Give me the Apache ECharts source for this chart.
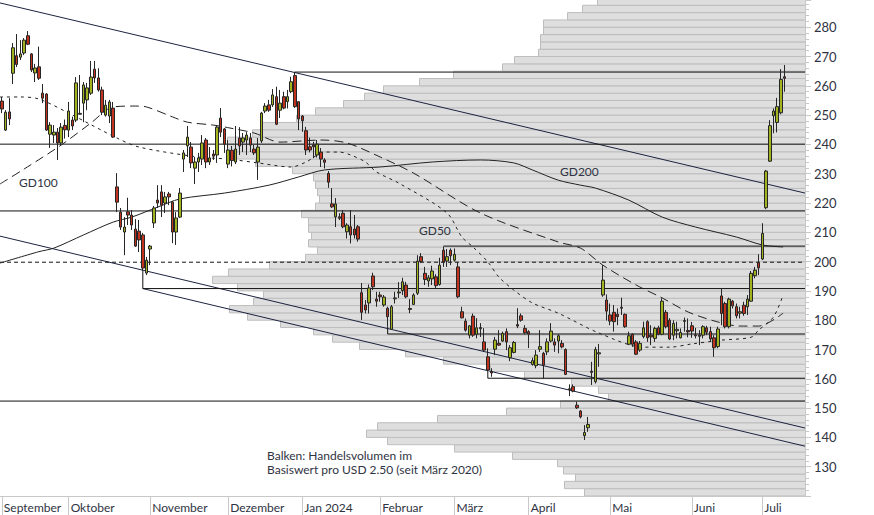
<!DOCTYPE html>
<html><head><meta charset="utf-8">
<script src="https://cdn.jsdelivr.net/npm/echarts/dist/echarts.min.js"></script>
<style>html,body{margin:0;padding:0;background:#fff}#c{width:874px;height:515px}</style>
</head><body><div id="c"></div>
<script>
// ---- axis / categories ----
const slotCount = 217; // trading-day slots on the x axis
const monthStarts = [0, 18, 40, 61, 81, 102, 122, 142, 164, 186, 205];
const monthNames = ['September','Oktober','November','Dezember','Jan 2024','Februar','März','April','Mai','Juni','Juli'];
const yMin = 120, yMax = 289.3, yStep = 10;

// ---- candles: [open, close, low, high] ----
const ohlc = [
[254.8,252.1,250.7,256.2],[244.9,251.0,244.6,251.7],[251.1,248.7,246.6,255.8],[264.3,273.0,260.6,274.6],
[270.3,267.3,266.4,277.7],[269.8,270.9,268.8,275.6],[271.2,275.6,270.5,276.3],[277.1,274.2,273.9,278.7],
[270.9,265.4,264.7,271.2],[264.4,266.1,261.3,267.5],[266.5,262.6,262.0,273.4],[257.5,255.8,254.1,260.6],
[257.2,244.9,244.6,257.5],[243.5,246.6,238.8,247.6],[243.2,244.2,240.5,246.6],[244.2,240.5,234.7,245.6],
[240.5,245.9,239.8,247.3],[246.5,245.0,242.0,248.5],[244.9,251.4,242.5,254.5],[248.3,246.3,244.9,249.5],
[248.3,261.0,247.6,263.0],[250.3,250.6,250.2,263.7],[254.1,260.3,247.6,261.3],[255.2,259.3,251.7,261.0],
[257.5,263.0,256.9,268.5],[265.7,262.7,261.0,268.5],[262.7,258.6,258.0,266.0],[258.6,251.0,250.0,259.7],
[250.0,253.4,249.5,255.2],[249.7,254.5,247.3,255.2],[252.4,242.5,242.2,254.5],[225.5,220.3,216.9,230.2],
[216.9,211.8,210.8,218.3],[210.1,211.8,202.2,215.2],[217.0,215.9,212.5,221.8],[215.9,212.5,210.8,217.6],
[211.1,205.3,205.0,214.5],[210.4,207.4,203.3,214.2],[209.1,197.8,197.1,209.8],[196.1,200.5,195.4,201.6],
[204.3,205.3,198.8,205.7],[213.2,218.3,211.5,219.0],[221.0,220.0,218.3,226.1],[223.8,219.3,215.2,226.1],
[220.0,222.1,216.6,223.8],[223.1,222.1,219.3,223.8],[220.3,210.1,206.3,220.7],[210.1,214.9,205.7,216.9],
[215.2,223.4,214.9,225.1],[235.0,237.1,230.6,238.1],[239.5,242.5,235.7,246.3],[239.1,233.7,231.9,240.8],
[231.9,234.0,226.5,235.7],[234.0,235.4,230.6,237.1],[235.0,240.5,233.0,243.2],[241.5,234.0,231.9,242.2],
[234.0,235.4,233.0,239.1],[236.7,236.0,234.7,238.1],[236.4,245.9,233.7,246.6],[249.0,244.2,242.5,252.4],
[245.3,240.1,237.1,245.6],[233.3,238.1,231.9,241.5],[238.0,234.5,232.5,239.5],[234.0,238.4,233.3,246.3],
[242.2,239.5,236.4,245.9],[240.8,242.2,237.4,243.9],[241.5,243.2,236.4,244.2],[242.2,239.8,237.4,243.9],
[238.4,237.1,236.4,239.8],[234.0,239.1,227.9,242.2],[241.2,250.7,240.5,251.1],[251.4,253.1,250.7,254.1],
[253.5,251.7,251.1,255.2],[253.5,256.9,252.8,258.9],[256.3,246.9,246.6,259.7],[251.7,254.1,249.0,258.6],
[256.3,252.4,252.0,258.0],[254.6,256.3,252.3,258.6],[258.0,261.4,257.5,263.1],[263.5,252.9,252.5,264.8],
[254.6,248.7,244.9,254.8],[249.7,248.1,244.3,250.0],[244.7,238.1,236.4,246.0],[239.2,238.1,237.3,242.3],
[239.8,239.2,235.3,240.9],[236.4,240.1,235.5,241.5],[237.4,235.0,232.3,238.8],[234.7,233.9,231.8,235.3],
[230.1,227.1,225.2,230.9],[219.7,218.7,218.3,225.1],[215.3,219.7,211.8,221.7],[215.3,214.8,214.2,216.5],
[216.5,211.9,211.4,217.6],[210.2,212.5,207.9,213.1],[211.9,209.1,206.2,217.6],[211.1,209.1,207.9,215.9],
[211.9,207.7,206.8,212.5],[189.4,182.7,180.1,192.7],[185.2,183.5,182.3,186.9],[185.9,191.0,182.3,192.2],
[195.1,191.4,190.3,196.2],[187.2,186.5,184.6,189.7],[188.6,188.0,186.3,189.7],[185.2,187.9,184.6,188.6],
[184.1,181.2,177.8,184.6],[176.9,184.6,176.9,185.2],[187.3,187.6,185.7,189.7],[189.3,189.6,187.6,193.0],
[190.1,193.1,188.6,194.5],[192.0,188.0,187.5,193.1],[184.0,183.7,182.4,187.2],[185.4,188.6,185.2,189.2],
[189.2,200.2,188.6,202.2],[201.7,200.0,199.5,202.9],[196.0,193.9,192.0,198.2],[193.4,194.5,191.4,195.4],
[194.1,196.8,192.0,198.6],[194.8,191.8,190.9,195.7],[192.2,198.8,191.8,201.3],[203.9,199.9,198.2,205.1],
[200.2,201.7,198.2,204.3],[203.9,202.0,198.8,204.5],[200.5,202.5,200.0,204.5],[198.2,188.0,187.5,199.9],
[182.9,180.8,180.6,184.6],[179.7,176.6,176.1,180.6],[174.9,178.1,173.8,178.3],[181.4,174.9,174.3,182.3],
[175.2,177.4,173.8,180.7],[177.5,177.1,174.3,179.0],[172.6,169.8,169.2,177.3],[167.5,163.0,162.4,170.4],
[162.5,162.0,160.7,163.6],[170.1,173.2,168.1,174.3],[172.1,171.5,171.2,176.6],[172.9,175.5,172.6,176.1],
[176.1,172.6,169.8,177.2],[167.2,170.6,166.0,171.5],[169.0,172.4,168.7,172.9],[178.5,178.0,177.3,184.1],
[181.5,180.0,179.5,182.3],[177.2,175.7,175.2,178.3],[176.1,175.3,170.5,176.6],[164.9,166.2,164.5,167.2],
[164.5,168.1,163.6,169.8],[170.1,171.0,169.2,176.6],[168.7,164.7,160.1,169.2],[169.2,172.6,168.1,173.8],
[172.9,176.3,172.4,179.0],[172.6,171.5,169.2,173.8],[172.9,174.7,168.7,175.2],[172.1,170.9,170.4,173.2],
[170.0,161.5,161.3,170.4],[156.6,156.3,154.1,158.1],[157.3,155.8,155.4,158.1],[151.0,150.1,149.7,152.2],
[149.0,147.0,146.5,149.3],[140.6,141.7,139.1,144.2],[143.3,144.4,141.9,147.0],[162.6,162.2,157.9,165.8],
[159.0,170.0,158.4,170.9],[168.5,168.9,164.1,171.9],[188.6,193.7,188.0,198.8],[186.9,183.1,179.9,188.8],
[181.8,179.7,178.3,185.7],[182.7,179.5,176.1,185.2],[182.0,181.2,178.3,184.0],[184.4,184.1,181.8,187.7],
[182.0,177.8,177.4,182.3],[171.8,174.7,171.5,176.1],[175.2,171.8,170.9,175.5],[172.6,168.4,168.1,173.2],
[169.8,172.1,169.2,172.9],[174.4,177.4,173.8,179.5],[179.5,174.0,172.6,180.0],[174.9,174.3,171.5,178.3],
[173.8,177.2,172.6,177.8],[177.4,175.2,174.9,178.1],[175.2,186.5,174.9,187.5],[182.7,177.8,177.2,183.5],
[180.0,173.6,173.2,180.7],[174.9,178.9,173.2,180.0],[176.4,176.9,173.8,179.5],[174.0,175.8,173.8,177.2],
[179.6,179.9,176.1,180.9],[176.5,176.0,174.2,180.6],[178.1,176.3,174.0,179.4],[175.0,174.7,173.8,177.4],
[174.9,174.5,171.5,176.6],[174.9,177.8,173.8,178.3],[177.4,175.9,174.9,178.1],[176.1,173.6,172.6,177.8],
[174.0,170.6,167.5,174.9],[171.0,177.0,170.4,177.8],[188.3,182.3,178.3,190.9],[185.7,177.8,177.2,186.3],
[177.8,187.2,177.2,187.7],[186.5,184.9,184.0,186.9],[184.6,181.5,180.6,185.7],[182.4,182.9,180.6,184.6],
[185.1,182.3,181.5,186.3],[184.6,187.2,181.8,188.6],[186.5,196.0,186.3,196.8],[195.2,197.1,194.3,198.2],
[199.7,197.9,195.4,202.5],[200.9,209.6,200.5,213.1],[218.4,230.9,217.9,231.3],[234.3,246.4,234.0,248.3],
[249.8,251.4,243.8,252.3],[247.5,252.9,244.1,255.9],[250.8,262.2,250.3,265.7],[263.1,262.6,258.0,267.1]
];

// ---- volume profile (USD 2.50 bins) ----
const volBinSize = 2.5;
const volBinLow = [120,122.5,125,127.5,130,132.5,135,137.5,140,142.5,145,147.5,150,152.5,155,157.5,160,162.5,165,167.5,
  170,172.5,175,177.5,180,182.5,185,187.5,190,192.5,195,197.5,200,202.5,205,207.5,210,212.5,215,217.5,
  220,222.5,225,227.5,230,232.5,235,237.5,240,242.5,245,247.5,250,252.5,255,257.5,260,262.5,265,267.5,
  270,272.5,275,277.5,280,282.5,285,287.5];
const volAmount = [221,241,230,242,248,293,351,418,439,428,368,299,245,197,207,234,281,315,362,400,
  446,473,492,525,558,576,552,542,568,593,577,536,500,488,497,494,497,497,504,490,
  486,488,490,492,513,550,578,578,578,553,545,509,490,462,441,422,386,352,303,291,
  267,265,265,262,262,238,223,208];
const volAxisMax = 805;

// ---- moving averages: [slot, value] ----
const gd50 = [[-0.5,256.2],[5,256.2],[10,255.5],[18,250.7],[31,242.2],[37,239.1],[53,235.7],[61,235.0],[69,233.7],[78,232.3],
  [82,234.0],[87,237.4],[91,237.4],[94,236.4],[98,234.0],[101,230.6],[107,226.8],[120,216.6],[124,208.4],[127,205.0],
  [131,199.9],[134,194.7],[138,190.3],[143,185.9],[150,182.4],[161,175.6],[173,170.8],[180,170.8],[186,171.9],[194,173.2],
  [202,174.2],[204,176.6],[208,181.1],[210.6,188.6]];
const gd100 = [[-0.5,226.5],[6,231.6],[16,239.8],[24,247.3],[30,252.8],[36,253.1],[39,252.8],[46,249.4],[50,247.6],[57,246.6],
  [61.5,245.6],[68,243.9],[75,240.8],[86,241.5],[93,240.5],[102,235.7],[111,230.2],[129,216.6],[150,206.7],[156,204.6],
  [162,198.8],[171,192.0],[178,187.6],[185,182.8],[193,179.4],[199,178.0],[204,178.0],[210.6,182.4]];
const gd200 = [[-0.5,199.5],[10,203.4],[14,204.6],[22,209.1],[30,213.5],[35,215.2],[42,218.6],[48,221.4],[60,223.4],[72,226.1],
  [80,228.9],[87,231.3],[102,232.3],[116,234.0],[129,234.7],[138,233.7],[143,231.3],[150,227.8],[156,226.1],[160,225.1],
  [169,221.0],[178,215.2],[187,211.8],[198,208.4],[205,205.7],[210.6,205.0]];

// ---- trend lines and levels: [slot, value] ----
const trendUpper = [[-0.5,288.3],[216.5,223.4]];
const trendLowA = [[-0.5,208.7],[216.5,143.2]];
const trendLowB = [[38,190.8],[216.5,137.0]];
const levelLines = [
  [[79,264.7],[216.5,264.7]],
  [[-0.5,240.1],[216.5,240.1]],
  [[-0.5,217.3],[216.5,217.3]],
  [[119,205.3],[216.5,205.3]],
  [[38,197.1],[38,190.8],[216.5,190.8]],
  [[104,177.8],[104,175.3],[216.5,175.3]],
  [[131,162.4],[131,160.2],[216.5,160.2]],
  [[-0.5,152.4],[216.5,152.4]]
];
const dashedLevel = [[-0.5,199.8],[216.5,199.8]];

// ---- text notes ----
const noteLines = ['Balken: Handelsvolumen im', 'Basiswert pro USD 2.50 (seit März 2020)'];

// ---- build ----
const cats = [];
for (let i = 0; i < slotCount; i++) {
  const k = monthStarts.indexOf(i);
  cats.push(k >= 0 ? monthNames[k] : 'd' + i);
}
const isMonth = (i) => monthStarts.indexOf(i) >= 0;
const FONT = 'Lato, "Open Sans", sans-serif';
const TXT = '#2f3342';
const lineCol = '#1c2340';

const series = [];
series.push({
  type: 'custom', name: 'volume', xAxisIndex: 1, yAxisIndex: 0, silent: true, z: 1, clip: true,
  data: volBinLow.map((lo, i) => [volAmount[i], lo]),
  renderItem: function (params, api) {
    const v = api.value(0), lo = api.value(1);
    const p1 = api.coord([v, lo + volBinSize]);
    const p0 = api.coord([0, lo]);
    return { type: 'rect', shape: { x: Math.round(p1[0]) + 0.5, y: p1[1], width: p0[0] - p1[0], height: p0[1] - p1[1] },
      style: { fill: '#dedede', stroke: '#bdbdbd', lineWidth: 1 } };
  }
});
function lineSeries(data, style, z) {
  return { type: 'line', xAxisIndex: 2, yAxisIndex: 0, data: data, symbol: 'none', silent: true, z: z || 3,
    lineStyle: Object.assign({ width: 1, color: lineCol }, style), animation: false };
}
series.push(lineSeries(trendUpper, {}));
series.push(lineSeries(trendLowA, {}));
series.push(lineSeries(trendLowB, {}));
levelLines.forEach(l => series.push(lineSeries(l, { color: '#111' })));
series.push(lineSeries(dashedLevel, { color: '#111', type: [4, 3] }));
series.push(Object.assign(lineSeries(gd50, { color: '#222', type: [3, 4] }, 4), { smooth: 0.3 }));
series.push(Object.assign(lineSeries(gd100, { color: '#222', type: [9, 5] }, 4), { smooth: 0.3 }));
series.push(Object.assign(lineSeries(gd200, { color: '#222' }, 4), { smooth: 0.3 }));
series.push({
  type: 'candlestick', xAxisIndex: 0, yAxisIndex: 0, data: ohlc, barWidth: 3, z: 6, silent: true,
  itemStyle: { color: '#a3b31f', color0: '#c0341f', borderColor: '#262626', borderColor0: '#262626', borderWidth: 1 }
});

const chart = echarts.init(document.getElementById('c'), null, { renderer: 'svg' });
chart.setOption({
  animation: false,
  backgroundColor: '#fff',
  grid: { left: 0, right: 69, top: 0, bottom: 19, containLabel: false },
  xAxis: [
    { type: 'category', data: cats, boundaryGap: true,
      axisLine: { show: true, lineStyle: { color: '#c8c8c8' } },
      axisTick: { show: true, alignWithLabel: true, interval: (i) => isMonth(i), length: 19, lineStyle: { color: '#c8c8c8' } },
      axisLabel: { interval: (i) => isMonth(i), formatter: (v) => (monthNames.indexOf(v) >= 0 ? v : ''),
        align: 'left', padding: [0, 0, 0, 2], margin: 5, color: TXT, fontSize: 12, fontFamily: FONT },
      splitLine: { show: false } },
    { type: 'value', show: false, inverse: true, min: 0, max: volAxisMax, position: 'top' },
    { type: 'value', show: false, min: -0.5, max: slotCount - 0.5 }
  ],
  yAxis: [{
    type: 'value', position: 'right', min: yMin, max: yMax, interval: yStep, scale: true,
    axisLine: { show: true, lineStyle: { color: '#c8c8c8' } },
    axisTick: { show: true, length: 6, lineStyle: { color: '#c8c8c8' } },
    minorTick: { show: true, splitNumber: 5, length: 4, lineStyle: { color: '#c8c8c8' } },
    axisLabel: { showMinLabel: false, showMaxLabel: false, margin: 9, color: TXT, fontSize: 13, fontFamily: FONT },
    splitLine: { show: false }
  }],
  graphic: [
    { type: 'text', left: 19, top: 176, z: 10, style: { text: 'GD100', fill: TXT, font: '12px ' + FONT } },
    { type: 'text', left: 560, top: 165, z: 10, style: { text: 'GD200', fill: TXT, font: '12px ' + FONT } },
    { type: 'text', left: 419, top: 224, z: 10, style: { text: 'GD50', fill: TXT, font: '12px ' + FONT } },
    { type: 'text', left: 267, top: 449, z: 10, style: { text: noteLines[0], fill: TXT, font: '12px ' + FONT } },
    { type: 'text', left: 267, top: 463, z: 10, style: { text: noteLines[1], fill: TXT, font: '12px ' + FONT } }
  ],
  series: series
});
</script>
</body></html>
